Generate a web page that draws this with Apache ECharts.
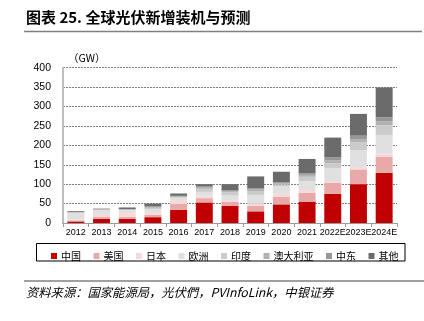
<!DOCTYPE html>
<html><head><meta charset="utf-8">
<script src="https://cdn.jsdelivr.net/npm/echarts@6/dist/echarts.min.js"></script>
<style>html,body{margin:0;padding:0;background:#fff;}#c{width:424px;height:321px;}</style>
</head><body><div id="c"></div>
<script>
const categories = ['2012','2013','2014','2015','2016','2017','2018','2019','2020','2021','2022E','2023E','2024E'];
const seriesNames = ['中国','美国','日本','欧洲','印度','澳大利亚','中东','其他'];
const china     = [4, 11, 11, 15, 34, 53, 44, 30, 48, 55, 75, 100, 129];
const usa       = [3, 5, 5, 6, 15, 11, 10, 14, 20, 23, 29, 38, 41];
const japan     = [2, 7, 9, 7, 8, 7, 5, 6, 7, 7, 4, 6, 9];
const europe    = [17, 10, 8, 8, 8, 9, 12, 22, 20, 23, 33, 43, 48];
const india     = [1, 1, 1, 3, 2, 8, 8, 9, 4, 11, 13, 21, 25];
const australia = [1, 1, 1, 2, 1, 3, 3, 5, 3, 5, 8, 7, 10];
const mideast   = [0.5, 0.5, 1, 2, 2, 3, 2, 3, 3, 4, 7, 10, 10];
const others    = [2, 1.5, 4, 7, 6, 6, 16, 31, 27, 37, 51, 56, 77];
const yTicks = [0, 50, 100, 150, 200, 250, 300, 350, 400];
const colors = ['#c00000','#e8a9a9','#f7d9d9','#e0e0e0','#cbcbcb','#b2b2b2','#979797','#6b6b6b'];
const values = [china, usa, japan, europe, india, australia, mideast, others];

const chart = echarts.init(document.getElementById('c'), null, {renderer:'canvas'});
const cjk = '"Liberation Sans", Arial, "Noto Sans CJK SC", sans-serif';
chart.setOption({
  animation: false,
  color: colors,
  textStyle: { fontFamily: cjk },
  grid: { left: 63, right: 27, top: 67.7, bottom: 98, containLabel: false },
  legend: {
    left: 46, top: 246, itemWidth: 6, itemHeight: 6, itemGap: 12.5, icon: 'rect',
    textStyle: { fontSize: 10, color: '#000', fontFamily: '"Noto Sans CJK SC", sans-serif', padding: [0,0,0,-1] },
    data: seriesNames
  },
  xAxis: {
    type: 'category', data: categories,
    axisLine: { lineStyle: { color: '#999', width: 1 } },
    axisTick: { show: true, alignWithLabel: false, length: 4, lineStyle: { color: '#999' } },
    axisLabel: { fontSize: 9, color: '#000', margin: 5, interval: 0 }
  },
  yAxis: {
    type: 'value', min: yTicks[0], max: yTicks[yTicks.length-1], interval: 50,
    axisLine: { show: true, lineStyle: { color: '#bfbfbf', width: 2 } },
    axisTick: { show: false },
    axisLabel: { fontSize: 10.5, color: '#000', margin: 12 },
    splitLine: { lineStyle: { color: '#7f7f7f', width: 1, type: [2, 1] } }
  },
  series: seriesNames.map((n, i) => ({
    name: n, type: 'bar', stack: 'total', barWidth: '66%',
    itemStyle: { color: colors[i] },
    data: values[i]
  })),
  graphic: [
    { type: 'text', left: 26, top: 10, style: { text: '图表 25. 全球光伏新增装机与预测', font: 'bold 15px "Noto Sans CJK SC", sans-serif', fill: '#000' } },
    { type: 'line', shape: { x1: 24, y1: 31.5, x2: 422, y2: 31.5 }, style: { stroke: '#808080', lineWidth: 1.5 } },
    { type: 'text', left: 68, top: 53, style: { text: '（GW）', font: '10.5px "Noto Sans CJK SC", sans-serif', fill: '#000' } },
    { type: 'rect', shape: { x: 36.5, y: 243.5, width: 368.5, height: 17.5 }, style: { fill: 'none', stroke: '#000', lineWidth: 1 }, z: -1 },
    { type: 'line', shape: { x1: 24, y1: 281, x2: 424, y2: 281 }, style: { stroke: '#808080', lineWidth: 1.5 } },
    { type: 'text', left: 26, top: 286, style: { text: '资料来源：国家能源局，光伏們，PVInfoLink，中银证券', font: 'italic 12.3px "Noto Sans CJK SC", sans-serif', fill: '#000' } }
  ]
});
</script></body></html>
